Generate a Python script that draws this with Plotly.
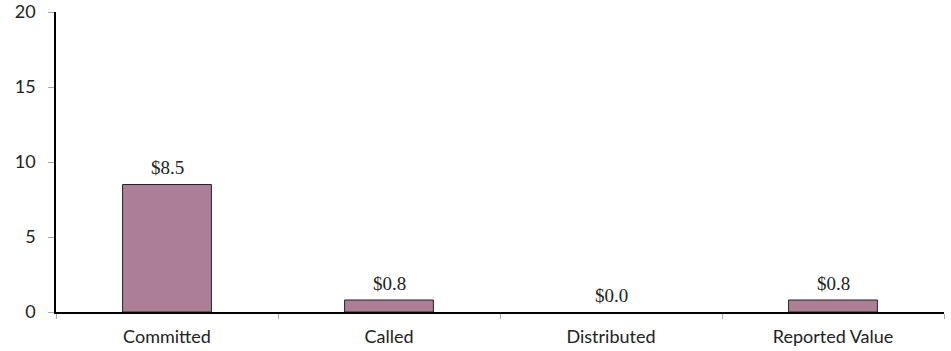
import plotly.graph_objects as go

categories = ["Committed", "Called", "Distributed", "Reported Value"]
values = [8.5, 0.8, 0.0, 0.8]
y_ticks = [0, 5, 10, 15, 20]

fig = go.Figure(
    go.Bar(
        x=categories,
        y=values,
        width=0.4,
        marker=dict(
            color="#AD7F96",
            # no outline on empty bars so a zero value leaves no stroke
            line=dict(color="#222222", width=[1 if v > 0 else 0 for v in values]),
        ),
        hoverinfo="x+y",
    )
)

# value labels centred a fixed distance above each bar top
for cat, val in zip(categories, values):
    fig.add_annotation(
        x=cat,
        y=val,
        text=f"${val:.1f}",
        showarrow=False,
        yanchor="middle",
        yshift=17,
        font=dict(family="Liberation Serif", size=19, color="#222222"),
    )

fig.update_layout(
    width=951,
    height=351,
    margin=dict(l=56, r=7, t=12, b=39),
    paper_bgcolor="white",
    plot_bgcolor="white",
    showlegend=False,
    font=dict(family="Lato", size=18, color="#222222"),
)

fig.update_xaxes(
    showline=True,
    linecolor="black",
    linewidth=1.5,
    ticks="outside",
    tickson="boundaries",
    ticklen=5,
    tickcolor="#aaaaaa",
    ticklabelstandoff=8,
    automargin=False,
    showgrid=False,
    tickfont=dict(family="Lato", size=18, color="#222222"),
)

fig.update_yaxes(
    range=[0, 20],
    tickvals=y_ticks,
    showline=True,
    linecolor="black",
    linewidth=1.5,
    ticks="outside",
    ticklen=6,
    tickcolor="#aaaaaa",
    ticklabelstandoff=9,
    automargin=False,
    showgrid=False,
    zeroline=False,
    tickfont=dict(family="Lato", size=18, color="#222222"),
)

fig.write_html("out.html")
